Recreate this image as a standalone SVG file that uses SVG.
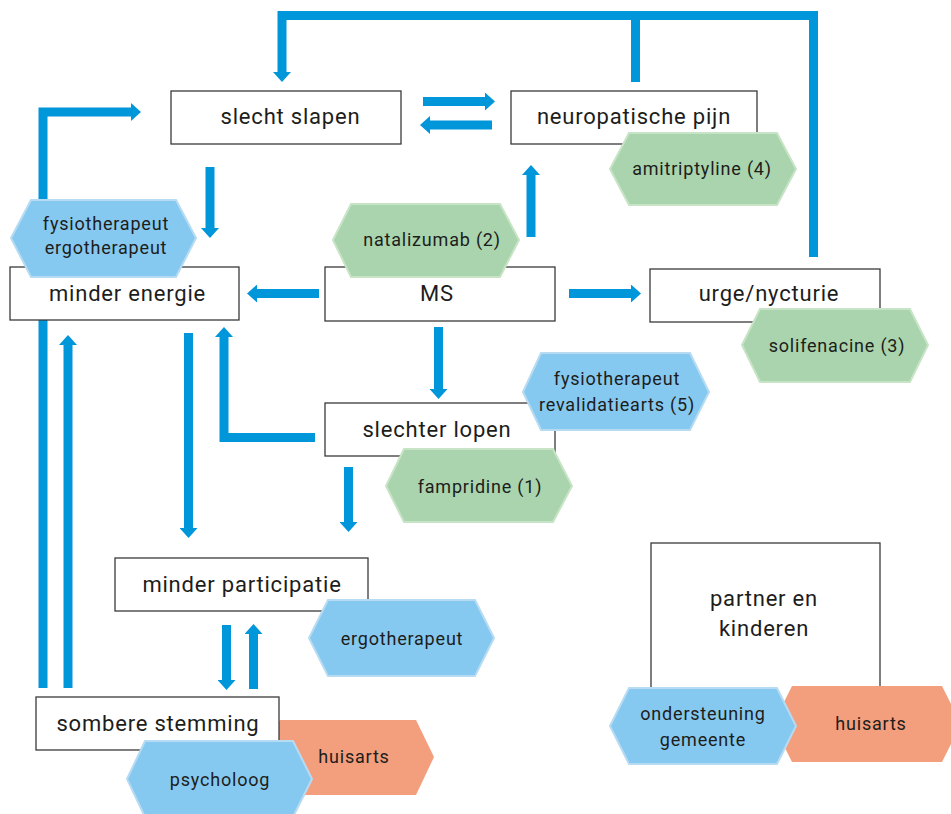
<svg xmlns="http://www.w3.org/2000/svg" width="951" height="814" viewBox="0 0 951 814">
<style>
.box{fill:#fff;stroke:#3a3a3a;stroke-width:1.3}
.hb{fill:#86C9F0;stroke:#B7DBF2;stroke-width:2}
.hg{fill:#A9D4AD;stroke:#C8E4C6;stroke-width:2}
.ho{fill:#F39E7D}
.t{font-family:Roboto,"Liberation Sans",sans-serif;font-size:22px;letter-spacing:0.8px;fill:#1d1d1b;text-anchor:middle}
.s{font-family:Roboto,"Liberation Sans",sans-serif;font-size:18px;letter-spacing:0.8px;fill:#1d1d1b;text-anchor:middle}
.c{fill:none;stroke:#0096DA;stroke-width:9}
.a{fill:none;stroke:#0096DA;stroke-width:9;marker-end:url(#ah)}
</style>
<defs>
<marker id="ah" markerUnits="userSpaceOnUse" viewBox="0 0 10 18" markerWidth="10" markerHeight="18" refX="0" refY="9" orient="auto">
<path d="M0,0 L10,9 L0,18 Z" fill="#0096DA"/>
</marker>
</defs>
<g id="connectors">
<path class="c" d="M635.5,82 V15.5"/>
<path class="a" d="M813.5,257 V15.5 H282 V72"/>
<path class="a" d="M43,200 V112 H131"/>
<path class="a" d="M210,167 V228"/>
<path class="a" d="M423,101.5 H485"/>
<path class="a" d="M492,125 H430"/>
<path class="a" d="M531,237 V175"/>
<path class="a" d="M319,293.5 H257"/>
<path class="a" d="M569,293.5 H631"/>
<path class="a" d="M438.5,327 V389"/>
<path class="a" d="M315,437.5 H224 V337"/>
<path class="a" d="M188.5,333 V528"/>
<path class="c" d="M43,320 V688"/>
<path class="a" d="M68,688 V345"/>
<path class="a" d="M348.5,467 V522"/>
<path class="a" d="M226.5,625 V680"/>
<path class="a" d="M253.5,689 V634"/>
</g>
<g id="slecht-slapen"><rect class="box" x="171" y="91" width="230" height="53"/><text class="t" x="290.5" y="124">slecht slapen</text></g>
<g id="neuropatische-pijn"><rect class="box" x="511" y="91" width="246" height="53"/><text class="t" x="634" y="124">neuropatische pijn</text></g>
<g id="minder-energie"><rect class="box" x="10" y="267" width="229" height="53"/><text class="t" x="127.5" y="301">minder energie</text></g>
<g id="ms"><rect class="box" x="325" y="267" width="230" height="54"/><text class="t" x="437" y="301">MS</text></g>
<g id="urge-nycturie"><rect class="box" x="650" y="269" width="230" height="53"/><text class="t" x="769" y="301">urge/nycturie</text></g>
<g id="slechter-lopen"><rect class="box" x="325" y="403" width="230" height="53"/><text class="t" x="437" y="437">slechter lopen</text></g>
<g id="minder-participatie"><rect class="box" x="115" y="558" width="253" height="53"/><text class="t" x="242" y="592">minder participatie</text></g>
<g id="huisarts-1"><polygon class="ho" points="262,757 280,720 416,720 434,757 416,795 280,795"/><text class="s" x="354" y="763">huisarts</text></g>
<g id="sombere-stemming"><rect class="box" x="36" y="697" width="243" height="53"/><text class="t" x="158" y="731">sombere stemming</text></g>
<g id="partner-kinderen"><rect class="box" x="651" y="543" width="229" height="160"/><text class="t" x="764" y="606">partner en</text><text class="t" x="764" y="636">kinderen</text></g>
<g id="fysio-ergo"><polygon class="hb" points="11,238 31,200 176,200 196,238 176,277 31,277"/><text class="s" x="106" y="230">fysiotherapeut</text><text class="s" x="106" y="254">ergotherapeut</text></g>
<g id="natalizumab"><polygon class="hg" points="333,240 351,204 500,204 519,240 500,277 351,277"/><text class="s" x="432" y="246">natalizumab (2)</text></g>
<g id="amitriptyline"><polygon class="hg" points="610,169 629,133 777,133 796,169 777,205 629,205"/><text class="s" x="702" y="175">amitriptyline (4)</text></g>
<g id="solifenacine"><polygon class="hg" points="742,345 760,309 910,309 928,345 910,382 760,382"/><text class="s" x="837" y="352">solifenacine (3)</text></g>
<g id="fysio-revalidatie"><polygon class="hb" points="523,392 541,353 690,353 709,392 690,430 541,430"/><text class="s" x="617" y="385">fysiotherapeut</text><text class="s" x="617" y="411">revalidatiearts (5)</text></g>
<g id="fampridine"><polygon class="hg" points="386,486 404,449 553,449 572,486 553,522 404,522"/><text class="s" x="480" y="493">fampridine (1)</text></g>
<g id="ergotherapeut"><polygon class="hb" points="309,638 328,600 475,600 494,638 475,676 328,676"/><text class="s" x="402" y="645">ergotherapeut</text></g>
<g id="psycholoog"><polygon class="hb" points="127,779 145,741 293,741 312,779 293,817 145,817"/><text class="s" x="220" y="786">psycholoog</text></g>
<g id="huisarts-2"><polygon class="ho" points="773,724 792,686 942,686 961,724 942,762 792,762"/><text class="s" x="871" y="730">huisarts</text></g>
<g id="ondersteuning"><polygon class="hb" points="610,726 629,688 777,688 796,726 777,764 629,764"/><text class="s" x="703" y="720">ondersteuning</text><text class="s" x="703" y="746">gemeente</text></g>
</svg>
